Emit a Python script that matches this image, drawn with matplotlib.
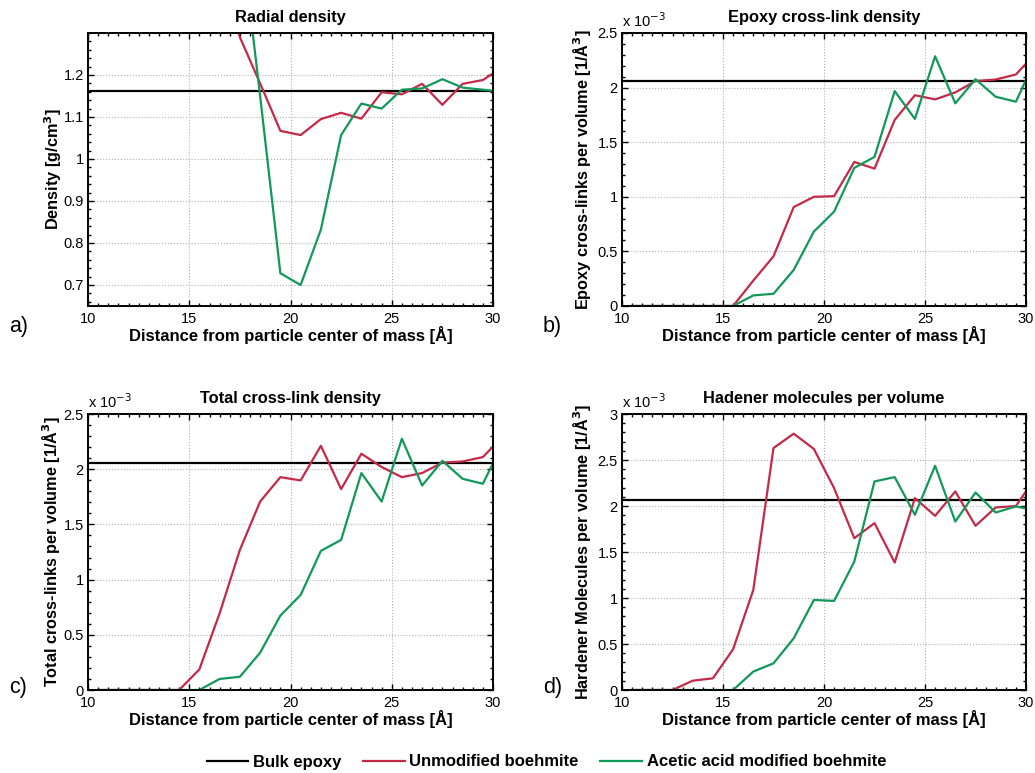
import numpy as np
import matplotlib
matplotlib.use("Agg")
import matplotlib.pyplot as plt
from matplotlib.ticker import MultipleLocator, FormatStrFormatter

plt.rcParams['font.family'] = ['Liberation Sans', 'DejaVu Sans']

# distance from particle centre of mass [A]
distance = [10.5, 11.5, 12.5, 13.5, 14.5, 15.5, 16.5, 17.5, 18.5, 19.5, 20.5,
            21.5, 22.5, 23.5, 24.5, 25.5, 26.5, 27.5, 28.5, 29.5, 30.5]

# radial density [g/cm^3] (early bins lie above the plotted range)
dens_dist_unmod = [16.5, 17.5, 18.5, 19.5, 20.5, 21.5, 22.5, 23.5, 24.5, 25.5,
                   26.5, 27.5, 28.5, 29.5, 30.5]
dens_unmod = [1.45, 1.29, 1.18, 1.067, 1.057, 1.095, 1.11, 1.096, 1.159, 1.154,
              1.179, 1.129, 1.179, 1.188, 1.22]
dens_dist_acet = [17.5, 18.5, 19.5, 20.5, 21.5, 22.5, 23.5, 24.5, 25.5, 26.5,
                  27.5, 28.5, 29.5, 30.5]
dens_acet = [1.56, 1.15, 0.728, 0.70, 0.832, 1.057, 1.132, 1.12, 1.165, 1.168,
             1.19, 1.17, 1.165, 1.16]
dens_bulk = 1.161

# epoxy cross-links per volume [1e-3 1/A^3]
epoxy_unmod = [0, 0, 0, 0, 0, 0, 0.233, 0.455, 0.906, 1.0, 1.006, 1.319, 1.258,
               1.704, 1.93, 1.892, 1.956, 2.06, 2.074, 2.12, 2.32]
epoxy_acet = [0, 0, 0, 0, 0, 0, 0.097, 0.112, 0.33, 0.682, 0.864, 1.265, 1.365,
              1.968, 1.713, 2.287, 1.856, 2.077, 1.916, 1.871, 2.27]
epoxy_bulk = 2.059

# total cross-links per volume [1e-3 1/A^3]
total_unmod = [0, 0, 0, 0, 0, 0.187, 0.695, 1.269, 1.707, 1.928, 1.898, 2.212,
               1.82, 2.14, 2.02, 1.928, 1.965, 2.06, 2.07, 2.11, 2.30]
total_acet = [0, 0, 0, 0, 0, 0, 0.10, 0.12, 0.338, 0.674, 0.861, 1.26, 1.36,
              1.965, 1.707, 2.276, 1.852, 2.076, 1.913, 1.868, 2.24]
total_bulk = 2.055

# hardener molecules per volume [1e-3 1/A^3]
hard_unmod = [0, 0, 0, 0.101, 0.127, 0.443, 1.088, 2.63, 2.786, 2.62, 2.194,
              1.65, 1.814, 1.385, 2.086, 1.893, 2.158, 1.785, 1.984, 2.0, 2.32]
hard_acet = [0, 0, 0, 0, 0, 0, 0.2, 0.29, 0.562, 0.979, 0.968, 1.396, 2.267,
             2.314, 1.904, 2.437, 1.831, 2.147, 1.929, 1.995, 1.95]
hard_bulk = 2.06

RED = '#C42A48'
GREEN = '#12995A'

fig = plt.figure(figsize=(10.35, 7.73), dpi=100)

W, H = 1035.0, 773.0
def make_ax(l, t, r, b):
    return fig.add_axes([l / W, 1 - b / H, (r - l) / W, (b - t) / H])

ax_a = make_ax(88, 33, 493, 306)
ax_b = make_ax(622, 33, 1026, 306)
ax_c = make_ax(88, 414, 493, 690)
ax_d = make_ax(622, 414, 1026, 690)

xlabel = 'Distance from particle center of mass [Å]'

def style(ax, ymin, ymax, ymajor, yminor, fmt):
    ax.set_xlim(10, 30)
    ax.set_ylim(ymin, ymax)
    ax.xaxis.set_major_locator(MultipleLocator(5))
    ax.xaxis.set_minor_locator(MultipleLocator(0.5))
    ax.yaxis.set_major_locator(MultipleLocator(ymajor))
    ax.yaxis.set_minor_locator(MultipleLocator(yminor))
    ax.yaxis.set_major_formatter(FormatStrFormatter(fmt))
    ax.tick_params(which='both', direction='in', top=True, right=True,
                   labelsize=10.5, color='black')
    ax.tick_params(axis='x', pad=4)
    ax.tick_params(axis='y', pad=3)
    ax.tick_params(which='major', length=4, width=1)
    ax.tick_params(which='minor', length=2.5, width=1)
    ax.grid(True, which='major', linestyle=':', color='#b0b0b0', linewidth=0.8)
    for s in ax.spines.values():
        s.set_linewidth(1.4)
    ax.set_xlabel(xlabel, fontsize=12, fontweight='bold', labelpad=0)

# a) radial density
ax_a.axhline(dens_bulk, color='black', lw=1.6, label='Bulk epoxy')
ax_a.plot(dens_dist_unmod, dens_unmod, color=RED, lw=1.6, label='Unmodified boehmite')
ax_a.plot(dens_dist_acet, dens_acet, color=GREEN, lw=1.6,
          label='Acetic acid modified boehmite')
style(ax_a, 0.65, 1.3, 0.1, 0.02, '%g')
ax_a.set_yticks([0.7, 0.8, 0.9, 1.0, 1.1, 1.2])
ax_a.set_yticklabels(['0.7', '0.8', '0.9', '1', '1.1', '1.2'])
ax_a.set_ylabel('Density [g/cm$^\\mathbf{3}$]', fontsize=11.7, fontweight='bold')
ax_a.set_title('Radial density', fontsize=11.8, fontweight='bold', pad=8)

panels = [
    (ax_b, epoxy_unmod, epoxy_acet, epoxy_bulk, 2.5, 'Epoxy cross-link density',
     'Epoxy cross-links per volume [1/Å$^\\mathbf{3}$]'),
    (ax_c, total_unmod, total_acet, total_bulk, 2.5, 'Total cross-link density',
     'Total cross-links per volume [1/Å$^\\mathbf{3}$]'),
    (ax_d, hard_unmod, hard_acet, hard_bulk, 3.0, 'Hadener molecules per volume',
     'Hardener Molecules per volume [1/Å$^\\mathbf{3}$]'),
]
for ax, unmod, acet, bulk, ytop, title, ylab in panels:
    ax.axhline(bulk, color='black', lw=1.6)
    ax.plot(distance, unmod, color=RED, lw=1.6)
    ax.plot(distance, acet, color=GREEN, lw=1.6)
    style(ax, 0, ytop, 0.5, 0.1, '%g')
    ax.set_ylabel(ylab, fontsize=11.7, fontweight='bold')
    ax.set_title(title, fontsize=11.8, fontweight='bold', pad=8)
    ax.text(0.0, 1.012, 'x 10$^{-3}$', transform=ax.transAxes, fontsize=10.5,
            ha='left', va='bottom')

ax_a.yaxis.set_label_coords(-0.060, 0.5)
ax_b.yaxis.set_label_coords(-0.071, 0.5)
ax_c.yaxis.set_label_coords(-0.065, 0.5)
ax_d.yaxis.set_label_coords(-0.071, 0.5)

# panel letters
fig.text(9 / W, 1 - 326 / H, 'a)', fontsize=15.5, va='center')
fig.text(543 / W, 1 - 326 / H, 'b)', fontsize=15.5, va='center')
fig.text(9 / W, 1 - 688 / H, 'c)', fontsize=15.5, va='center')
fig.text(543 / W, 1 - 688 / H, 'd)', fontsize=15.5, va='center')

handles, labels = ax_a.get_legend_handles_labels()
fig.legend(handles, labels, loc='center', bbox_to_anchor=(0.528, 1 - 762 / H),
           ncol=3, frameon=False, prop={'weight': 'bold', 'size': 12},
           handlelength=2.5, columnspacing=1.3, handletextpad=0.28)

fig.savefig('out.png', dpi=100)
